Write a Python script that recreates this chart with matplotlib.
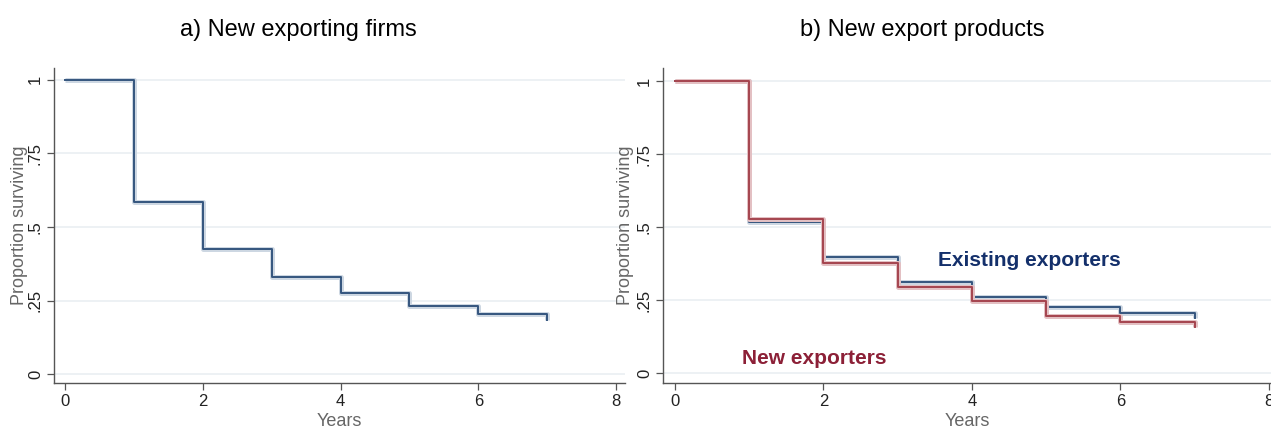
import matplotlib
matplotlib.use("Agg")
import matplotlib.pyplot as plt

# ---- data ----
years = [0, 1, 2, 3, 4, 5, 6, 7]
firms_surv = [1.0, 0.586, 0.426, 0.331, 0.277, 0.233, 0.204, 0.185]
existing_surv = [1.0, 0.518, 0.399, 0.312, 0.260, 0.228, 0.205, 0.189]
new_surv = [1.0, 0.528, 0.376, 0.295, 0.246, 0.197, 0.175, 0.158]
yticks = [0, 0.25, 0.5, 0.75, 1]
yticklabels = ["0", ".25", ".5", ".75", "1"]
xticks = [0, 2, 4, 6, 8]
titles = ["a) New exporting firms", "b) New export products"]

BLUE = "#34557e"
BLUE_BAND = "#cdd7e2"
RED = "#a5444e"
RED_BAND = "#e3c0c3"
TXT_BLUE = "#14306b"
TXT_RED = "#8c2037"

plt.rcParams['font.family'] = ['Liberation Sans', 'DejaVu Sans']

W, H = 1271, 430
fig = plt.figure(figsize=(W/100, H/100), dpi=100)
ax1 = fig.add_axes([54/W, 1-383/H, (625-54)/W, (383-68)/H])
ax2 = fig.add_axes([663/W, 1-383/H, (1271-663)/W, (383-68)/H])

def style(ax, xlim, ylim, spine_px, width_px, ylab_px):
    ax.set_xlim(*xlim)
    ax.set_ylim(*ylim)
    for s in ["top", "right"]:
        ax.spines[s].set_visible(False)
    for s in ["left", "bottom"]:
        ax.spines[s].set_color("#555555")
        ax.spines[s].set_linewidth(1.0)
    ax.set_yticks(yticks)
    ax.set_yticklabels(yticklabels, rotation=90, va="center")
    ax.set_xticks(xticks)
    ax.tick_params(axis="both", colors="#555555", labelcolor="#222222",
                   labelsize=12, length=5, width=0.9, pad=3)
    ax.grid(axis="y", color="#eaeff2", linewidth=1.2)
    ax.set_axisbelow(True)
    ax.set_xlabel("Years", color="#666666", fontsize=13)
    ax.set_ylabel("Proportion surviving", color="#666666", fontsize=13)
    ax.yaxis.set_label_coords((ylab_px - spine_px) / width_px, 0.5)
    ax.xaxis.set_label_coords(0.5, (383 - 413) / 315)

def km(ax, y, c, band):
    ax.step(years, y, where="post", color=band, linewidth=3.6, solid_capstyle="butt")
    ax.step(years, y, where="post", color=c, linewidth=1.4)

style(ax1, (-0.16, 8.13), (-0.03, 1.04), 54, 571, 28)
km(ax1, firms_surv, BLUE, BLUE_BAND)

style(ax2, (-0.16, 8.03), (-0.034, 1.045), 663, 608, 634)
km(ax2, existing_surv, BLUE, BLUE_BAND)
km(ax2, new_surv, RED, RED_BAND)
ax2.text(3.54, 0.384, "Existing exporters", color=TXT_BLUE, fontsize=15,
         fontweight="bold", va="center", ha="left")
ax2.text(0.9, 0.05, "New exporters", color=TXT_RED, fontsize=15,
         fontweight="bold", va="center", ha="left")

for xc, t in zip([298, 922], titles):
    fig.text(xc/W, 1-30/H, t, ha="center", va="center", fontsize=17,
             family=['Liberation Sans Narrow', 'Liberation Sans', 'DejaVu Sans'])

fig.savefig("out.png", dpi=100)
